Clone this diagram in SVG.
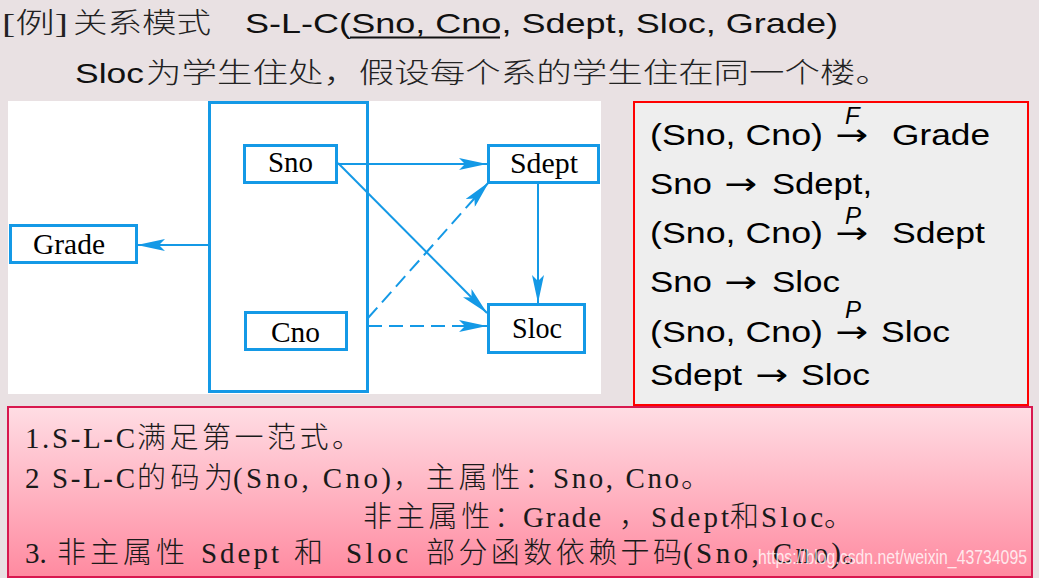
<svg xmlns="http://www.w3.org/2000/svg" width="1039" height="578" viewBox="0 0 1039 578">
<style>
.hd{font-family:"Liberation Sans","Noto Sans CJK SC",sans-serif;font-size:28px;fill:#111}
.cj{font-family:"Noto Sans CJK SC",sans-serif;font-size:28px;font-weight:300;fill:#222}
.box{fill:#fff;stroke:#1499e6;stroke-width:3}
.nt{font-family:"Liberation Serif",serif;font-size:30px;fill:#000}
.rt{font-family:"Liberation Sans",sans-serif;font-size:30px;fill:#000}
.ar{font-family:"DejaVu Sans",sans-serif;font-size:30px;fill:#000}
.ri{font-family:"Liberation Sans",sans-serif;font-size:24px;font-style:italic;fill:#000}
.bm{font-family:"Liberation Serif",serif;font-size:29px;fill:#1a1a1a}
.bc{font-family:"Noto Sans CJK SC",sans-serif;font-size:29px;font-weight:300;fill:#1a1a1a}
.ln{stroke:#1499e6;stroke-width:2;fill:none}
.dash{stroke-dasharray:14 7}
</style>
<defs>
<marker id="ah" viewBox="0 0 28 12" refX="28" refY="6" markerWidth="28" markerHeight="12" orient="auto" markerUnits="userSpaceOnUse">
<path d="M0,0 L28,6 L0,12 L6,6 Z" fill="#1499e6"/>
</marker>
<linearGradient id="pk" x1="0" y1="0" x2="0" y2="1">
<stop offset="0" stop-color="#ffdde4"/>
<stop offset="1" stop-color="#ff8aa0"/>
</linearGradient>
</defs>
<rect x="0" y="0" width="1039" height="578" fill="#e9e1e3"/>

<g id="header">
<text x="2" y="33" textLength="66" lengthAdjust="spacingAndGlyphs" style="font-family:'Liberation Serif','Noto Sans CJK SC',serif;font-size:28px;font-weight:300;fill:#222">[例]</text>
<text class="cj" x="73" y="33" textLength="138" lengthAdjust="spacingAndGlyphs">关系模式</text>
<text class="hd" x="245" y="33" textLength="593" lengthAdjust="spacingAndGlyphs">S-L-C(Sno, Cno, Sdept, Sloc, Grade)</text>
<line x1="350" y1="37.5" x2="500" y2="37.5" stroke="#111" stroke-width="2"/>
<text class="hd" x="75" y="83" textLength="69" lengthAdjust="spacingAndGlyphs">Sloc</text>
<text class="cj" x="146" y="83" textLength="745" lengthAdjust="spacingAndGlyphs">为学生住处，假设每个系的学生住在同一个楼。</text>
</g>

<rect x="8" y="101" width="593" height="293" fill="#fff"/>

<g id="key">
<rect x="209.5" y="102.5" width="158" height="289" fill="none" stroke="#1499e6" stroke-width="3"/>
</g>
<g id="grade">
<rect class="box" x="10.5" y="225.5" width="126" height="37"/>
<text class="nt" x="33" y="254" textLength="72" lengthAdjust="spacingAndGlyphs">Grade</text>
</g>
<g id="sno">
<rect class="box" x="244.5" y="145.5" width="92" height="37"/>
<text class="nt" x="268" y="172" textLength="45" lengthAdjust="spacingAndGlyphs">Sno</text>
</g>
<g id="cno">
<rect class="box" x="245.5" y="312.5" width="101" height="37"/>
<text class="nt" x="271" y="342" textLength="49" lengthAdjust="spacingAndGlyphs">Cno</text>
</g>
<g id="sdept">
<rect class="box" x="488.5" y="145.5" width="110" height="37"/>
<text class="nt" x="510" y="173" textLength="68" lengthAdjust="spacingAndGlyphs">Sdept</text>
</g>
<g id="sloc">
<rect class="box" x="488.5" y="304.5" width="96" height="48"/>
<text class="nt" x="512" y="338" textLength="50" lengthAdjust="spacingAndGlyphs">Sloc</text>
</g>

<g id="connectors">
<line class="ln" x1="209" y1="245" x2="137" y2="245" marker-end="url(#ah)"/>
<line class="ln" x1="337" y1="164" x2="487" y2="164" marker-end="url(#ah)"/>
<line class="ln" x1="338" y1="163" x2="487" y2="313" marker-end="url(#ah)"/>
<line class="ln" x1="538" y1="183" x2="538" y2="303" marker-end="url(#ah)"/>
<line class="ln dash" x1="368" y1="318" x2="489" y2="182" marker-end="url(#ah)"/>
<line class="ln dash" x1="368" y1="326" x2="487" y2="326" marker-end="url(#ah)"/>
</g>

<g id="fds">
<rect x="634" y="102" width="394" height="303" fill="#eeeeee" stroke="#ff0000" stroke-width="2"/>
<text class="rt" x="650" y="145" textLength="173" lengthAdjust="spacingAndGlyphs">(Sno, Cno)</text>
<text class="ar" x="835" y="145" textLength="33" lengthAdjust="spacingAndGlyphs">→</text>
<text class="ri" x="845" y="124">F</text>
<text class="rt" x="892" y="145" textLength="98" lengthAdjust="spacingAndGlyphs">Grade</text>

<text class="rt" x="650" y="194" textLength="62" lengthAdjust="spacingAndGlyphs">Sno</text>
<text class="ar" x="724" y="194" textLength="33" lengthAdjust="spacingAndGlyphs">→</text>
<text class="rt" x="772" y="194" textLength="100" lengthAdjust="spacingAndGlyphs">Sdept,</text>

<text class="rt" x="650" y="243" textLength="173" lengthAdjust="spacingAndGlyphs">(Sno, Cno)</text>
<text class="ar" x="835" y="243" textLength="33" lengthAdjust="spacingAndGlyphs">→</text>
<text class="ri" x="845" y="224">P</text>
<text class="rt" x="892" y="243" textLength="93" lengthAdjust="spacingAndGlyphs">Sdept</text>

<text class="rt" x="650" y="292" textLength="62" lengthAdjust="spacingAndGlyphs">Sno</text>
<text class="ar" x="724" y="292" textLength="33" lengthAdjust="spacingAndGlyphs">→</text>
<text class="rt" x="772" y="292" textLength="68" lengthAdjust="spacingAndGlyphs">Sloc</text>

<text class="rt" x="650" y="342" textLength="173" lengthAdjust="spacingAndGlyphs">(Sno, Cno)</text>
<text class="ar" x="835" y="342" textLength="33" lengthAdjust="spacingAndGlyphs">→</text>
<text class="ri" x="845" y="318">P</text>
<text class="rt" x="881" y="342" textLength="69" lengthAdjust="spacingAndGlyphs">Sloc</text>

<text class="rt" x="650" y="385" textLength="92" lengthAdjust="spacingAndGlyphs">Sdept</text>
<text class="ar" x="755" y="385" textLength="33" lengthAdjust="spacingAndGlyphs">→</text>
<text class="rt" x="801" y="385" textLength="69" lengthAdjust="spacingAndGlyphs">Sloc</text>
</g>

<g id="notes">
<rect x="8" y="407" width="1024" height="170" fill="url(#pk)" stroke="#d8184f" stroke-width="2"/>
<text class="bm" x="25" y="448" textLength="110" lengthAdjust="spacing">1.S-L-C</text>
<text class="bc" x="137" y="448" textLength="224" lengthAdjust="spacing">满足第一范式。</text>

<text class="bm" x="25" y="488" textLength="110" lengthAdjust="spacing">2 S-L-C</text>
<text class="bc" x="137" y="488" textLength="96" lengthAdjust="spacing">的码为</text>
<text class="bm" x="233" y="488" textLength="158" lengthAdjust="spacing">(Sno, Cno)</text>
<text class="bc" x="393" y="488" textLength="160" lengthAdjust="spacing">，主属性：</text>
<text class="bm" x="553" y="488" textLength="126" lengthAdjust="spacing">Sno, Cno</text>
<text class="bc" x="681" y="488">。</text>

<text class="bc" x="363" y="527" textLength="160" lengthAdjust="spacing">非主属性：</text>
<text class="bm" x="523" y="527" textLength="78" lengthAdjust="spacing">Grade</text>
<text class="bc" x="619" y="527">，</text>
<text class="bm" x="651" y="527" textLength="78" lengthAdjust="spacing">Sdept</text>
<text class="bc" x="730" y="527">和</text>
<text class="bm" x="761" y="527" textLength="62" lengthAdjust="spacing">Sloc</text>
<text class="bc" x="824" y="527">。</text>

<text class="bm" x="25" y="563">3.</text>
<text class="bc" x="57" y="563" textLength="128" lengthAdjust="spacing">非主属性</text>
<text class="bm" x="201" y="563" textLength="78" lengthAdjust="spacing">Sdept</text>
<text class="bc" x="294" y="563">和</text>
<text class="bm" x="346" y="563" textLength="62" lengthAdjust="spacing">Sloc</text>
<text class="bc" x="426" y="563" textLength="256" lengthAdjust="spacing">部分函数依赖于码</text>
<text class="bm" x="683" y="563" textLength="158" lengthAdjust="spacing">(Sno, Cno)</text>
<text class="bc" x="842" y="563">。</text>
<text x="758" y="564" textLength="269" lengthAdjust="spacingAndGlyphs" style="font-family:'Liberation Sans',sans-serif;font-size:21px;fill:#ffffff;fill-opacity:0.8">https://blog.csdn.net/weixin_43734095</text>
</g>
</svg>
